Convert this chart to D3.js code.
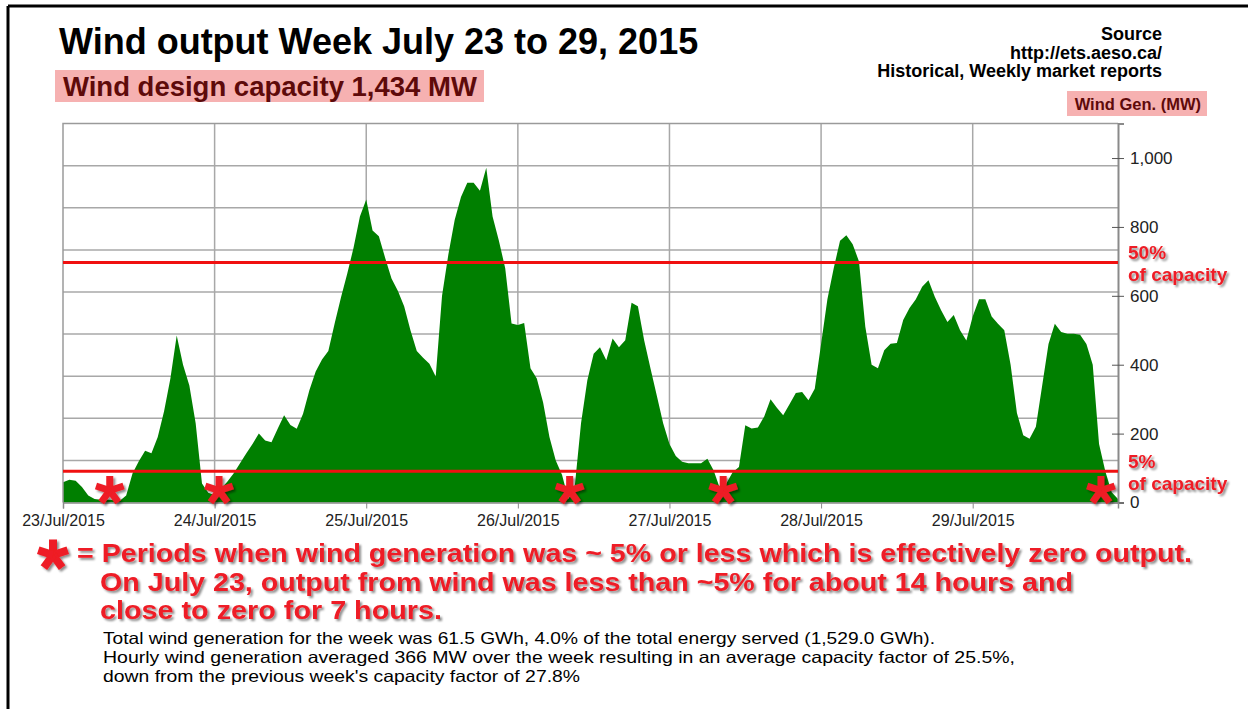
<!DOCTYPE html>
<html>
<head>
<meta charset="utf-8">
<script src="https://cdn.jsdelivr.net/npm/d3@7"></script>
<style>
  body { margin: 0; background: #fff; }
  svg { display: block; font-family: "Liberation Sans", Arial, Helvetica, sans-serif; }
</style>
</head>
<body>
<div id="chart"></div>
<script>
// Hourly wind generation (MW), 23 Jul 2015 00:00 to 29 Jul 2015 23:00
var windMW = [
  59, 66, 63, 45, 20, 10, 8, 8, 8, 5,
  20, 84, 120, 150, 143, 190, 265, 360, 485, 400,
  340, 230, 55, 28, 22, 40, 60, 84, 113, 142,
  170, 200, 180, 175, 215, 253, 225, 214, 258, 326,
  380, 415, 440, 520, 595, 665, 740, 830, 880, 790,
  773, 710, 650, 615, 570, 500, 440, 420, 403, 366,
  600, 720, 820, 887, 928, 928, 905, 972, 830, 760,
  680, 520, 515, 521, 390, 360, 290, 190, 122, 80,
  10, 45, 230, 355, 432, 451, 413, 476, 451, 471,
  580, 570, 470, 389, 310, 230, 170, 135, 118, 114,
  114, 114, 127, 93, 40, 55, 88, 103, 224, 215,
  218, 250, 300, 275, 253, 285, 318, 321, 297, 330,
  460, 590, 680, 760, 776, 750, 700, 510, 400, 390,
  442, 461, 463, 530, 565, 590, 626, 645, 597, 558,
  524, 544, 500, 470, 540, 590, 590, 540, 519, 500,
  400, 260, 195, 185, 220, 340, 460, 519, 495, 490,
  490, 487, 460, 400, 170, 90, 30, 10
];

var dayLabels = ["23/Jul/2015", "24/Jul/2015", "25/Jul/2015", "26/Jul/2015",
                 "27/Jul/2015", "28/Jul/2015", "29/Jul/2015"];
var yTicks = [0, 200, 400, 600, 800, 1000];

// capacity lines as drawn on the picture
var refLines = [
  { value: 697, label: "50%" },
  { value: 91, label: "5%" }
];

// hours where the "effectively zero" markers sit
var zeroHours = [7.4, 24.7, 80.2, 104.5, 164.3];

var sourceLines = ["Source", "http://ets.aeso.ca/", "Historical, Weekly market reports"];

var noteLines = [
  { text: "= Periods when wind generation was ~ 5% or less which is effectively zero output.", x: 77, len: 1115 },
  { text: "On July 23, output from wind was less than ~5% for about 14 hours and", x: 100, len: 973 },
  { text: "close to zero for 7 hours.", x: 100, len: 342 }
];

var summaryLines = [
  { text: "Total wind generation for the week was 61.5 GWh, 4.0% of the total energy served (1,529.0 GWh).", len: 832 },
  { text: "Hourly wind generation averaged 366 MW over the week resulting in an average capacity factor of 25.5%,", len: 912 },
  { text: "down from the previous week's capacity factor of 27.8%", len: 477 }
];

var width = 1248, height = 709;
var red = "#ee1c25";
var plot = { left: 63, right: 1118, top: 123.6, bottom: 502.5 };

var svg = d3.select("#chart").append("svg")
  .attr("width", width)
  .attr("height", height);

// drop shadow used by the red annotations
var defs = svg.append("defs");
defs.append("filter")
  .attr("id", "shadow")
  .attr("x", "-10%").attr("y", "-20%")
  .attr("width", "130%").attr("height", "160%")
  .append("feDropShadow")
  .attr("dx", 2).attr("dy", 2)
  .attr("stdDeviation", 1.2)
  .attr("flood-color", "#000")
  .attr("flood-opacity", 0.45);

// slide frame (top and left only)
svg.append("line").attr("x1", 8).attr("x2", width).attr("y1", 6).attr("y2", 6)
  .attr("stroke", "#000").attr("stroke-width", 3);
svg.append("line").attr("x1", 8).attr("x2", 8).attr("y1", 6).attr("y2", height)
  .attr("stroke", "#000").attr("stroke-width", 3);

// scales
var x = d3.scaleLinear().domain([0, windMW.length - 1]).range([plot.left, plot.right]);
var y = d3.scaleLinear().domain([0, 1100]).range([plot.bottom, plot.top]);

// grid (the original chart has 9 equal horizontal bands)
var grid = svg.append("g").attr("stroke", "#a8a8a8").attr("stroke-width", 1.5);
grid.selectAll("line.h")
  .data(d3.range(1, 9))
  .enter().append("line")
  .attr("class", "h")
  .attr("x1", plot.left).attr("x2", plot.right)
  .attr("y1", function(d) { return plot.top + d * (plot.bottom - plot.top) / 9; })
  .attr("y2", function(d) { return plot.top + d * (plot.bottom - plot.top) / 9; });
grid.selectAll("line.v")
  .data(dayLabels.slice(1))
  .enter().append("line")
  .attr("class", "v")
  .attr("x1", function(d, i) { return x((i + 1) * 24); })
  .attr("x2", function(d, i) { return x((i + 1) * 24); })
  .attr("y1", plot.top).attr("y2", plot.bottom);

// wind area
var area = d3.area()
  .x(function(d, i) { return x(i); })
  .y0(y(0))
  .y1(function(d) { return y(d); });

svg.append("path")
  .datum(windMW)
  .attr("fill", "#007f00")
  .attr("d", area);

// plot border
svg.append("path")
  .attr("d", "M" + plot.left + "," + plot.bottom + "V" + plot.top + "H" + plot.right)
  .attr("fill", "none").attr("stroke", "#9a9a9a").attr("stroke-width", 1.5);

// right y axis
var yAxis = svg.append("g")
  .attr("transform", "translate(" + plot.right + ",0)")
  .call(d3.axisRight(y).tickValues(yTicks).tickFormat(d3.format(",")).tickSize(6).tickPadding(6));
yAxis.select(".domain").attr("stroke", "#8a8a8a").attr("stroke-width", 2);
yAxis.selectAll(".tick line").attr("x1", -6).attr("x2", 6).attr("stroke", "#555");
yAxis.selectAll(".tick text")
  .attr("font-size", 17).attr("fill", "#222")
  .attr("font-family", "\"Liberation Sans\", Arial, sans-serif");

// bottom x axis
var xAxis = svg.append("g")
  .attr("transform", "translate(0," + plot.bottom + ")")
  .call(d3.axisBottom(x)
    .tickValues(d3.range(dayLabels.length).map(function(i) { return i * 24; }))
    .tickFormat(function(d, i) { return dayLabels[i]; })
    .tickSize(6).tickPadding(6));
xAxis.select(".domain").attr("stroke", "#8a8a8a").attr("stroke-width", 1.5);
xAxis.selectAll(".tick line").attr("stroke", "#8a8a8a");
xAxis.selectAll(".tick text")
  .attr("font-size", 16).attr("fill", "#222")
  .attr("font-family", "\"Liberation Sans\", Arial, sans-serif");

// capacity lines and labels
var refs = svg.append("g");
refs.selectAll("line")
  .data(refLines)
  .enter().append("line")
  .attr("x1", plot.left).attr("x2", plot.right)
  .attr("y1", function(d) { return y(d.value); })
  .attr("y2", function(d) { return y(d.value); })
  .attr("stroke", "#f01010").attr("stroke-width", 3);

var refText = refs.selectAll("text")
  .data(refLines)
  .enter().append("text")
  .attr("x", 1128)
  .attr("y", function(d) { return y(d.value) - 3.5; })
  .attr("font-size", 19).attr("font-weight", "bold")
  .attr("fill", red)
  .attr("filter", "url(#shadow)");
refText.append("tspan").text(function(d) { return d.label; });
refText.append("tspan").attr("x", 1128).attr("dy", 22).text("of capacity");

// asterisk marker: five thick arms
function asterisk(g, r, w) {
  d3.range(5).forEach(function(k) {
    var a = (-90 + 72 * k) * Math.PI / 180;
    g.append("line")
      .attr("x1", 0).attr("y1", 0)
      .attr("x2", r * Math.cos(a)).attr("y2", r * Math.sin(a))
      .attr("stroke", red).attr("stroke-width", w);
  });
}

svg.selectAll("g.zero")
  .data(zeroHours)
  .enter().append("g")
  .attr("class", "zero")
  .attr("transform", function(d) { return "translate(" + x(d) + "," + (plot.bottom - 12) + ")"; })
  .attr("filter", "url(#shadow)")
  .each(function() { asterisk(d3.select(this), 14.5, 7); });

// title and header
svg.append("text")
  .attr("x", 59).attr("y", 54)
  .attr("font-size", 36).attr("font-weight", "bold").attr("fill", "#000")
  .text("Wind output Week July 23 to 29, 2015");

svg.append("rect")
  .attr("x", 55).attr("y", 70).attr("width", 429).attr("height", 32)
  .attr("fill", "#f6b1b1");
svg.append("text")
  .attr("x", 63).attr("y", 96)
  .attr("font-size", 27.5).attr("font-weight", "bold").attr("fill", "#5e0a0a")
  .text("Wind design capacity 1,434 MW");

svg.append("g").selectAll("text")
  .data(sourceLines)
  .enter().append("text")
  .attr("x", 1162)
  .attr("y", function(d, i) { return 40 + i * 18.6; })
  .attr("text-anchor", "end")
  .attr("font-size", 18).attr("font-weight", "bold").attr("fill", "#000")
  .text(function(d) { return d; });

svg.append("rect")
  .attr("x", 1067).attr("y", 91).attr("width", 140).attr("height", 25)
  .attr("fill", "#f6b1b1");
svg.append("text")
  .attr("x", 1201).attr("y", 109.5)
  .attr("text-anchor", "end")
  .attr("font-size", 16.5).attr("font-weight", "bold").attr("fill", "#5e0a0a")
  .text("Wind Gen. (MW)");

// red note below the chart
var legendStar = svg.append("g")
  .attr("transform", "translate(53,555)")
  .attr("filter", "url(#shadow)");
asterisk(legendStar, 15.5, 8);

svg.append("g").selectAll("text")
  .data(noteLines)
  .enter().append("text")
  .attr("x", function(d) { return d.x; })
  .attr("y", function(d, i) { return 562 + i * 28.5; })
  .attr("font-family", "\"Liberation Sans Narrow\", \"Arial Narrow\", \"Liberation Sans\", Arial, sans-serif")
  .attr("font-size", 25).attr("font-weight", "bold").attr("fill", red)
  .attr("textLength", function(d) { return d.len; })
  .attr("lengthAdjust", "spacingAndGlyphs")
  .attr("filter", "url(#shadow)")
  .text(function(d) { return d.text; });

// weekly summary
svg.append("g").selectAll("text")
  .data(summaryLines)
  .enter().append("text")
  .attr("x", 103)
  .attr("y", function(d, i) { return 644 + i * 19; })
  .attr("font-family", "\"Liberation Sans Narrow\", \"Arial Narrow\", \"Liberation Sans\", Arial, sans-serif")
  .attr("font-size", 16.5).attr("fill", "#000")
  .attr("textLength", function(d) { return d.len; })
  .attr("lengthAdjust", "spacingAndGlyphs")
  .text(function(d) { return d.text; });
</script>
</body>
</html>
